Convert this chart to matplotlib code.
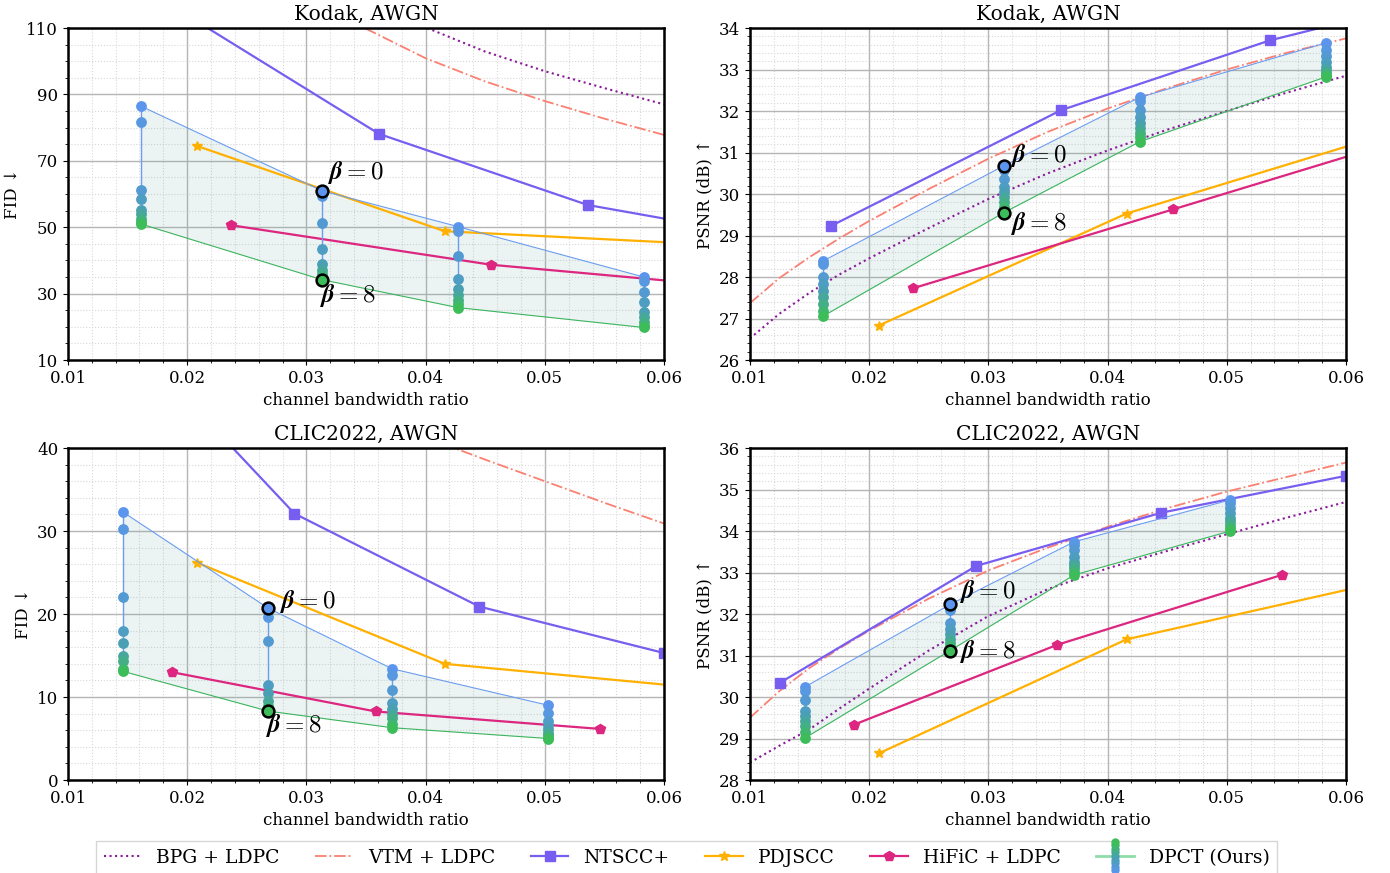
import numpy as np
import matplotlib
matplotlib.use('Agg')
import matplotlib.pyplot as plt
from matplotlib.colors import LinearSegmentedColormap
from matplotlib.lines import Line2D
from matplotlib.legend_handler import HandlerBase
from matplotlib.ticker import AutoMinorLocator

plt.rcParams['font.family'] = 'DejaVu Serif'
plt.rcParams['mathtext.fontset'] = 'cm'

# ---------------- data ----------------
# DPCT columns: beta = 0..8 for each bandwidth ratio
kodak_dpct_x = [0.0161, 0.0313, 0.0427, 0.0583]
kodak_dpct_fid = [
    [86.5, 81.7, 61.1, 58.5, 55.2, 54.1, 52.5, 51.5, 51.0],
    [61.0, 59.3, 51.3, 43.4, 38.9, 37.2, 35.8, 34.8, 34.2],
    [50.2, 49.0, 41.3, 34.5, 31.3, 29.5, 28.0, 26.8, 25.8],
    [35.0, 33.8, 30.4, 27.4, 24.6, 22.9, 21.4, 20.4, 19.8],
]
kodak_dpct_psnr = [
    [28.38, 28.32, 28.01, 27.84, 27.67, 27.51, 27.35, 27.19, 27.05],
    [30.68, 30.58, 30.37, 30.17, 30.05, 29.93, 29.81, 29.69, 29.55],
    [32.33, 32.23, 32.03, 31.86, 31.70, 31.58, 31.46, 31.38, 31.26],
    [33.64, 33.48, 33.32, 33.19, 33.07, 32.99, 32.91, 32.86, 32.82],
]
clic_dpct_x = [0.0146, 0.0268, 0.0372, 0.0503]
clic_dpct_fid = [
    [32.3, 30.2, 22.0, 18.0, 16.5, 15.0, 14.3, 13.4, 13.1],
    [20.7, 19.7, 16.8, 11.5, 10.5, 9.5, 8.9, 8.6, 8.3],
    [13.4, 12.7, 10.9, 9.3, 8.6, 8.0, 7.5, 6.8, 6.3],
    [9.0, 8.1, 7.1, 6.6, 6.1, 5.7, 5.4, 5.1, 5.0],
]
clic_dpct_psnr = [
    [30.24, 30.14, 29.92, 29.67, 29.55, 29.43, 29.31, 29.15, 29.01],
    [32.23, 32.09, 31.79, 31.65, 31.53, 31.41, 31.30, 31.21, 31.12],
    [33.74, 33.66, 33.54, 33.38, 33.26, 33.18, 33.10, 33.02, 32.94],
    [34.75, 34.67, 34.55, 34.43, 34.31, 34.23, 34.15, 34.07, 34.00],
]

# NTSCC+
kodak_ntscc_x = [0.0168, 0.0361, 0.0536, 0.0694]
kodak_ntscc_fid = [120.9, 78.1, 56.7, 46.6]
kodak_ntscc_psnr = [29.23, 32.02, 33.70, 34.83]
clic_ntscc_x = [0.0125, 0.0290, 0.0445, 0.0600]
clic_ntscc_fid = [57.3, 32.1, 20.9, 15.3]
clic_ntscc_psnr = [30.34, 33.16, 34.44, 35.33]

# PDJSCC
pdjscc_x = [0.0208, 0.0416, 0.0625]
kodak_pdjscc_fid = [74.5, 48.8, 45.05]
kodak_pdjscc_psnr = [26.83, 29.53, 31.36]
clic_pdjscc_fid = [26.2, 14.0, 11.16]
clic_pdjscc_psnr = [28.64, 31.39, 32.74]

# HiFiC + LDPC
kodak_hific_x = [0.0237, 0.0455, 0.0683]
kodak_hific_fid = [50.6, 38.7, 31.3]
kodak_hific_psnr = [27.73, 29.63, 31.62]
clic_hific_x = [0.0187, 0.0358, 0.0546]
clic_hific_fid = [13.0, 8.26, 6.16]
clic_hific_psnr = [29.33, 31.26, 32.94]

# BPG / VTM + LDPC
cr_x = [0.01, 0.0125, 0.015, 0.0175, 0.02, 0.025, 0.03, 0.035, 0.04, 0.045, 0.05, 0.055, 0.06]
kodak_bpg_psnr = [26.52, 27.12, 27.62, 28.06, 28.45, 29.18, 29.88, 30.5, 31.05, 31.55, 32.0, 32.44, 32.85]
kodak_vtm_psnr = [27.37, 27.98, 28.48, 28.93, 29.35, 30.12, 30.85, 31.5, 32.06, 32.55, 33.0, 33.4, 33.75]
clic_bpg_psnr = [28.42, 28.83, 29.22, 29.72, 30.2, 31.12, 31.95, 32.6, 33.1, 33.52, 33.92, 34.32, 34.7]
clic_vtm_psnr = [29.5, 30.15, 30.7, 31.17, 31.6, 32.37, 33.05, 33.6, 34.1, 34.55, 34.95, 35.3, 35.65]
kodak_bpg_fid_x = [0.035, 0.04, 0.045, 0.05, 0.055, 0.06]
kodak_bpg_fid = [119.0, 110.2, 102.9, 97.0, 91.9, 87.0]
kodak_vtm_fid_x = [0.03, 0.035, 0.04, 0.045, 0.05, 0.055, 0.06]
kodak_vtm_fid = [120.5, 109.8, 100.9, 93.9, 88.0, 82.7, 77.8]
clic_vtm_fid_x = [0.04, 0.045, 0.05, 0.055, 0.06]
clic_vtm_fid = [41.3, 38.6, 36.0, 33.4, 30.9]

# ---------------- style ----------------
c_bpg = '#8b1a9b'
c_vtm = '#fa8072'
c_ntscc = '#785ef0'
c_pdj = '#ffb000'
c_hific = '#dc267f'
c_top = '#6a9cf0'
c_bot = '#3cb55e'
dpct_cmap = LinearSegmentedColormap.from_list('dpct', ['#5b95ee', '#4a9fb5', '#3dbd5a'])
beta_colors = [dpct_cmap(i / 8) for i in range(9)]


def draw_panel(ax, title, ylabel, ylim, yticks, dx, dcols, ntx, nty, pdy, hx, hy,
               bpg=None, vtm=None, ann=None):
    if bpg is not None:
        ax.plot(bpg[0], bpg[1], ':', color=c_bpg, lw=1.5)
    if vtm is not None:
        ax.plot(vtm[0], vtm[1], '-.', color=c_vtm, lw=1.3)
    ax.plot(ntx, nty, '-', color=c_ntscc, lw=1.6, marker='s', ms=7)
    ax.plot(pdjscc_x, pdy, '-', color=c_pdj, lw=1.6, marker='*', ms=7)
    ax.plot(hx, hy, '-', color=c_hific, lw=1.6, marker='p', ms=7)

    cols = np.array(dcols)
    tops = cols[:, 0]
    bots = cols[:, -1]
    ax.fill_between(dx, bots, tops, color='#5f9ea0', alpha=0.12, lw=0)
    ax.plot(dx, tops, '-', color=c_top, lw=0.8)
    ax.plot(dx, bots, '-', color=c_bot, lw=0.8)
    for j, xv in enumerate(dx):
        ax.plot([xv] * 9, cols[j], '-', color=c_top, lw=1.0, zorder=3)
        for b in range(9):
            ax.plot(xv, cols[j][b], 'o', color=beta_colors[b], ms=7.8, mew=0, zorder=4)

    # highlighted beta points
    j = 1
    for b, (ox, oy) in zip([0, 8], ann):
        ax.plot(dx[j], cols[j][b], 'o', mfc=beta_colors[b], mec='black', mew=1.8,
                ms=8.5, zorder=5)
        ax.annotate(r'$\boldsymbol{\beta}=%d$' % b, (dx[j], cols[j][b]),
                    xytext=(ox, oy), textcoords='offset pixels',
                    ha='left', va='center', fontsize=18, zorder=6)

    ax.set_xlim(0.01, 0.06)
    ax.set_ylim(*ylim)
    ax.set_xticks([0.01, 0.02, 0.03, 0.04, 0.05, 0.06])
    ax.set_xticklabels(['0.01', '0.02', '0.03', '0.04', '0.05', '0.06'])
    ax.set_yticks(yticks)
    ax.xaxis.set_minor_locator(AutoMinorLocator())
    ax.yaxis.set_minor_locator(AutoMinorLocator())
    ax.grid(True, which='major', color='#b5b5b5', lw=1.0)
    ax.grid(True, which='minor', color='#d8d8d8', lw=0.8, ls=':')
    ax.set_axisbelow(True)
    ax.tick_params(labelsize=12)
    for s in ax.spines.values():
        s.set_linewidth(1.8)
    ax.set_title(title, fontsize=14.5)
    ax.set_xlabel('channel bandwidth ratio', fontsize=12)
    ax.set_ylabel(ylabel, fontsize=12)


fig, axs = plt.subplots(2, 2, figsize=(13.9, 8.73), dpi=100)
plt.subplots_adjust(left=0.0489, right=0.9683, top=0.9679, bottom=0.1065,
                    wspace=0.144, hspace=0.265)

draw_panel(axs[0, 0], 'Kodak, AWGN', 'FID \u2193', (10, 110), [10, 30, 50, 70, 90, 110],
           kodak_dpct_x, kodak_dpct_fid, kodak_ntscc_x, kodak_ntscc_fid,
           kodak_pdjscc_fid, kodak_hific_x, kodak_hific_fid,
           bpg=(kodak_bpg_fid_x, kodak_bpg_fid), vtm=(kodak_vtm_fid_x, kodak_vtm_fid),
           ann=[(6, 18), (-2, -16)])
draw_panel(axs[0, 1], 'Kodak, AWGN', 'PSNR (dB) \u2191', (26, 34), list(range(26, 35)),
           kodak_dpct_x, kodak_dpct_psnr, kodak_ntscc_x, kodak_ntscc_psnr,
           kodak_pdjscc_psnr, kodak_hific_x, kodak_hific_psnr,
           bpg=(cr_x, kodak_bpg_psnr), vtm=(cr_x, kodak_vtm_psnr),
           ann=[(7, 10), (7, -11)])
draw_panel(axs[1, 0], 'CLIC2022, AWGN', 'FID \u2193', (0, 40), [0, 10, 20, 30, 40],
           clic_dpct_x, clic_dpct_fid, clic_ntscc_x, clic_ntscc_fid,
           clic_pdjscc_fid, clic_hific_x, clic_hific_fid,
           vtm=(clic_vtm_fid_x, clic_vtm_fid),
           ann=[(12, 7), (-2, -14)])
draw_panel(axs[1, 1], 'CLIC2022, AWGN', 'PSNR (dB) \u2191', (28, 36), list(range(28, 37)),
           clic_dpct_x, clic_dpct_psnr, clic_ntscc_x, clic_ntscc_psnr,
           clic_pdjscc_psnr, clic_hific_x, clic_hific_psnr,
           bpg=(cr_x, clic_bpg_psnr), vtm=(cr_x, clic_vtm_psnr),
           ann=[(10, 13), (10, -1)])


class DPCTHandler(HandlerBase):
    def create_artists(self, legend, orig_handle, xdescent, ydescent, width, height,
                       fontsize, trans):
        arts = [Line2D([0, width], [height / 2, height / 2], color='#8fdcaa', lw=2,
                       transform=trans)]
        ys = np.linspace(-0.6 * height, 1.6 * height, 9)
        for b in range(9):
            arts.append(Line2D([width / 2], [ys[b]], marker='o', ms=6, mew=0,
                               color=beta_colors[b], transform=trans))
        return arts


handles = [
    Line2D([], [], ls=':', color=c_bpg, lw=1.5),
    Line2D([], [], ls='-.', color=c_vtm, lw=1.3),
    Line2D([], [], color=c_ntscc, lw=1.6, marker='s', ms=7),
    Line2D([], [], color=c_pdj, lw=1.6, marker='*', ms=7),
    Line2D([], [], color=c_hific, lw=1.6, marker='p', ms=7),
    Line2D([], [], color='#8fdcaa'),
]
labels = ['BPG + LDPC', 'VTM + LDPC', 'NTSCC+', 'PDJSCC', 'HiFiC + LDPC', 'DPCT (Ours)']
leg = fig.legend(handles, labels, loc='lower center', bbox_to_anchor=(0.494, -0.012),
                 ncol=6, fontsize=13.5, fancybox=False, edgecolor='#cccccc',
                 columnspacing=1.9, handlelength=2.0,
                 handler_map={handles[5]: DPCTHandler()})

fig.savefig('out.png', dpi=100)
